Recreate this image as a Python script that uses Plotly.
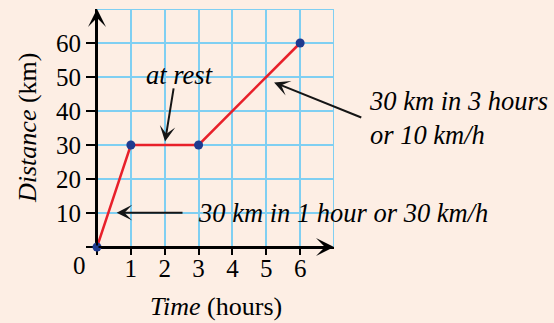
import plotly.graph_objects as go

# Data
time_hours = [0, 1, 3, 6]
distance_km = [0, 30, 30, 60]

x_tickvals = [0, 1, 2, 3, 4, 5, 6]
x_ticktext = ["", "1", "2", "3", "4", "5", "6"]
y_tickvals = [0, 10, 20, 30, 40, 50, 60]
y_ticktext = ["", "10", "20", "30", "40", "50", "60"]

BG = "#FDEEE4"
GRID = "#7FCFF2"
FONT = "Liberation Serif"

fig = go.Figure()
fig.add_trace(go.Scatter(
    x=time_hours, y=distance_km, mode="lines+markers",
    line=dict(color="#E8202A", width=2.5),
    marker=dict(color="#1F3A8F", size=9),
    cliponaxis=False, showlegend=False,
))

# outer grid borders (x=7, y=70)
fig.add_shape(type="line", x0=7, x1=7, y0=0, y1=70, xref="x", yref="y",
              line=dict(color=GRID, width=2), layer="below")
fig.add_shape(type="line", x0=0, x1=7, y0=70, y1=70, xref="x", yref="y",
              line=dict(color=GRID, width=2), layer="below")

ann = []
# axis arrows
ann.append(dict(x=7, y=0, ax=0, ay=0, xref="x", yref="y", axref="x", ayref="y",
                text="", showarrow=True, arrowhead=3, arrowsize=1.5, arrowwidth=2,
                arrowcolor="black", standoff=0))
ann.append(dict(x=0, y=70, ax=0, ay=0, xref="x", yref="y", axref="x", ayref="y",
                text="", showarrow=True, arrowhead=3, arrowsize=1.5, arrowwidth=2,
                arrowcolor="black", standoff=0))
# pointer arrows
for (tx, ty, hx, hy) in [(2.27, 47.1, 2.01, 31.0),
                         (7.85, 37.9, 5.23, 48.4),
                         (2.57, 10.1, 0.58, 10.1)]:
    ann.append(dict(x=hx, y=hy, ax=tx, ay=ty, xref="x", yref="y", axref="x", ayref="y",
                    text="", showarrow=True, arrowhead=3, arrowsize=1.3, arrowwidth=2,
                    arrowcolor="#151515", standoff=0))
# texts
tfont = dict(family=FONT, size=26.5, color="black")
ann.append(dict(x=2.45, y=50.6, xref="x", yref="y", text="<i>at rest</i>",
                showarrow=False, font=tfont, xanchor="center", yanchor="middle"))
ann.append(dict(x=1.14, y=0.542, xref="paper", yref="paper",
                text="<i>30 km in 3 hours<br>or 10 km/h</i>",
                showarrow=False, font=tfont, xanchor="left", yanchor="middle", align="left"))
ann.append(dict(x=2.93, y=10.0, xref="x", yref="y",
                text="<i>30 km in 1 hour or 30 km/h</i>",
                showarrow=False, font=tfont, xanchor="left", yanchor="middle"))
# origin label
ann.append(dict(x=0, y=0, xref="x", yref="y", text="0", showarrow=False,
                font=dict(family=FONT, size=25, color="black"),
                xanchor="center", yanchor="middle", xshift=-18, yshift=-18))
# axis titles
afont = dict(family=FONT, size=26, color="black")
ann.append(dict(x=0, y=0.5, xref="paper", yref="paper", text="<i>Distance</i> (km)",
                showarrow=False, textangle=-90, font=afont,
                xanchor="center", yanchor="middle", xshift=-70))
ann.append(dict(x=0.5, y=0, xref="paper", yref="paper", text="<i>Time</i> (hours)",
                showarrow=False, font=afont,
                xanchor="center", yanchor="middle", yshift=-59))

fig.update_layout(
    width=554, height=323, autosize=False,
    margin=dict(l=97, r=220, t=9, b=76, pad=0),
    paper_bgcolor=BG, plot_bgcolor=BG,
    annotations=ann,
    xaxis=dict(range=[0, 7], tickvals=x_tickvals, ticktext=x_ticktext,
               showgrid=True, gridcolor=GRID, gridwidth=2, zeroline=False,
               showline=True, linecolor="black", linewidth=2,
               ticks="outside", ticklen=6, tickwidth=2, tickcolor="black",
               tickfont=dict(family=FONT, size=25, color="black"),
               ticklabelstandoff=-8,
               layer="below traces", fixedrange=True),
    yaxis=dict(range=[0, 70], tickvals=y_tickvals, ticktext=y_ticktext,
               showgrid=True, gridcolor=GRID, gridwidth=2, zeroline=False,
               showline=True, linecolor="black", linewidth=2,
               ticks="outside", ticklen=9, tickwidth=2, tickcolor="black",
               tickfont=dict(family=FONT, size=25, color="black"),
               layer="below traces", fixedrange=True),
)

fig.write_html("out.html", config={"displayModeBar": False},
               post_script="document.body.style.margin='0';document.body.style.background='" + BG + "';")
